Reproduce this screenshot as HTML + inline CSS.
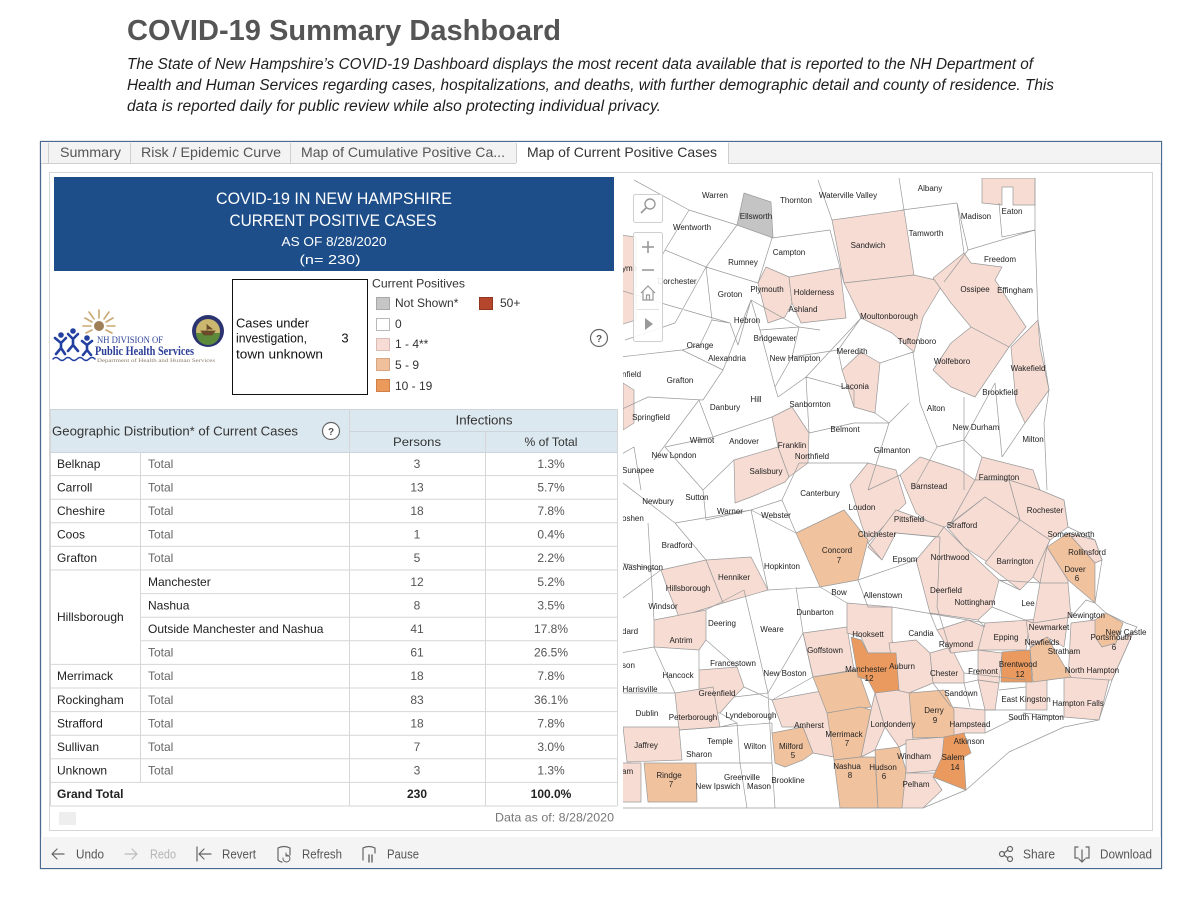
<!DOCTYPE html>
<html><head><meta charset="utf-8">
<style>
html,body{margin:0;padding:0;background:#fff;}
svg{display:block;font-family:"Liberation Sans",Arial,sans-serif;}
</style></head>
<body>
<svg width="1199" height="899" viewBox="0 0 1199 899" xmlns="http://www.w3.org/2000/svg">
<rect x="0" y="0" width="1199" height="899" fill="#fff"/>

<!-- Page header -->
<text x="127" y="40" font-size="29" font-weight="bold" fill="#555" textLength="434" lengthAdjust="spacingAndGlyphs">COVID-19 Summary Dashboard</text>
<g font-size="15.5" font-style="italic" fill="#1e1e1e">
<text x="127" y="69" textLength="906" lengthAdjust="spacingAndGlyphs">The State of New Hampshire’s COVID-19 Dashboard displays the most recent data available that is reported to the NH Department of</text>
<text x="127" y="90" textLength="927" lengthAdjust="spacingAndGlyphs">Health and Human Services regarding cases, hospitalizations, and deaths, with further demographic detail and county of residence. This</text>
<text x="127" y="111" textLength="534" lengthAdjust="spacingAndGlyphs">data is reported daily for public review while also protecting individual privacy.</text>
</g>

<!-- Dashboard frame -->
<rect x="40.5" y="141.5" width="1121" height="727" fill="#fff" stroke="#4a6a8f" stroke-width="1.3"/>
<!-- tabs -->
<rect x="41" y="142" width="1120" height="21" fill="#f3f3f3"/>
<rect x="516" y="142" width="212" height="22" fill="#fff"/>
<g stroke="#cfcfcf" stroke-width="1">
<line x1="41" y1="163.5" x2="516" y2="163.5"/>
<line x1="728" y1="163.5" x2="1161" y2="163.5"/>
<line x1="48.5" y1="143" x2="48.5" y2="163"/>
<line x1="130.5" y1="143" x2="130.5" y2="163"/>
<line x1="290.5" y1="143" x2="290.5" y2="163"/>
<line x1="516.5" y1="143" x2="516.5" y2="163"/>
<line x1="728.5" y1="143" x2="728.5" y2="163"/>
</g>
<g font-size="14" fill="#555">
<text x="60" y="157" textLength="61" lengthAdjust="spacingAndGlyphs">Summary</text>
<text x="141" y="157" textLength="140" lengthAdjust="spacingAndGlyphs">Risk / Epidemic Curve</text>
<text x="301" y="157" textLength="204" lengthAdjust="spacingAndGlyphs">Map of Cumulative Positive Ca...</text>
<text x="527" y="157" fill="#333" textLength="190" lengthAdjust="spacingAndGlyphs">Map of Current Positive Cases</text>
</g>

<!-- toolbar -->
<rect x="41" y="837" width="1120" height="31" fill="#f4f4f4"/>
<!-- inner panel -->
<rect x="49.5" y="172.5" width="1103" height="658" fill="#fff" stroke="#d6d6d6"/>

<!-- Blue header -->
<rect x="54" y="177" width="560" height="94" fill="#1d4e89"/>
<g fill="#fff" text-anchor="middle">
<text x="334" y="204" font-size="17" textLength="236" lengthAdjust="spacingAndGlyphs">COVID-19 IN NEW HAMPSHIRE</text>
<text x="333" y="226" font-size="17" textLength="207" lengthAdjust="spacingAndGlyphs">CURRENT POSITIVE CASES</text>
<text x="334" y="246" font-size="13" textLength="105" lengthAdjust="spacingAndGlyphs">AS OF 8/28/2020</text>
<text x="330" y="264" font-size="13" textLength="61" lengthAdjust="spacingAndGlyphs">(n= 230)</text>
</g>

<!-- Logo -->
<g>
<g stroke="#c9a874" stroke-width="1.6" stroke-linecap="round">
<line x1="91" y1="326" x2="83" y2="326"/>
<line x1="92" y1="322" x2="85" y2="318"/>
<line x1="94" y1="319" x2="89" y2="312"/>
<line x1="99" y1="318" x2="99" y2="310"/>
<line x1="104" y1="319" x2="109" y2="312"/>
<line x1="106" y1="322" x2="113" y2="318"/>
<line x1="107" y1="326" x2="115" y2="326"/>
<line x1="106" y1="330" x2="112" y2="333"/>
<line x1="92" y1="330" x2="86" y2="333"/>
</g>
<circle cx="99" cy="326" r="5" fill="#9e7f58"/>
<g stroke="#2340a0" stroke-width="2.6" fill="none" stroke-linecap="round" stroke-linejoin="round">
<path d="M55 338 L61 343 L66 338 M61 343 L61 348 M56 354 L61 348 L65 354"/>
<path d="M68 334 L73 339 L78 334 M73 339 L73 345 M68 351 L73 345 L78 351"/>
<path d="M82 341 L87 345 L92 341 M87 345 L87 350 M83 355 L87 350 L91 355"/>
<path d="M53 359 q3 -3 6 0 t6 0 t6 0 t6 0 t6 0 t6 0 t6 0" stroke-width="1.5"/>
</g>
<circle cx="61" cy="335" r="2.8" fill="#2340a0"/>
<circle cx="73" cy="331" r="2.8" fill="#2340a0"/>
<circle cx="87" cy="338" r="2.8" fill="#2340a0"/>
<text x="97" y="343" font-family="Liberation Serif,serif" font-size="9" fill="#2a3f96" textLength="66" lengthAdjust="spacingAndGlyphs">NH DIVISION OF</text>
<text x="95" y="355" font-family="Liberation Serif,serif" font-size="13" font-weight="bold" fill="#2b3d97" textLength="99" lengthAdjust="spacingAndGlyphs">Public Health Services</text>
<text x="97" y="362" font-family="Liberation Serif,serif" font-size="5.5" fill="#8a7a6a" textLength="118" lengthAdjust="spacingAndGlyphs">Department of Health and Human Services</text>
<circle cx="208" cy="331" r="16" fill="#2b3470"/>
<circle cx="208" cy="331" r="12" fill="#cbb86e"/>
<path d="M196 333 A12 12 0 0 0 220 333 Z" fill="#5d8a3a"/>
<path d="M201 331 L215 331 L212 335 L204 335 Z M207 324 L207 331 M207 325 L212 329 L207 329" fill="#6b4a2a" stroke="#6b4a2a" stroke-width="0.8"/>
</g>

<!-- Cases box -->
<rect x="232.5" y="279.5" width="135" height="115" fill="#fff" stroke="#111" stroke-width="1"/>
<g font-size="13" fill="#111">
<text x="236" y="327.5" textLength="73" lengthAdjust="spacingAndGlyphs">Cases under</text>
<text x="236" y="342.5" textLength="71" lengthAdjust="spacingAndGlyphs">investigation,</text>
<text x="236" y="358.5" textLength="87" lengthAdjust="spacingAndGlyphs">town unknown</text>
<text x="345" y="342.5" text-anchor="middle">3</text>
</g>

<!-- Legend -->
<g font-size="12" fill="#333">
<text x="372" y="287.5" textLength="93" lengthAdjust="spacingAndGlyphs">Current Positives</text>
<rect x="376.5" y="297.5" width="13" height="12" fill="#c6c6c6" stroke="#a8a8a8"/>
<rect x="376.5" y="318.5" width="13" height="12" fill="#fff" stroke="#b8b8b8"/>
<rect x="376.5" y="338.5" width="13" height="12" fill="#f6dcd4" stroke="#d9bcb3"/>
<rect x="376.5" y="358.5" width="13" height="12" fill="#f0c09d" stroke="#d6a582"/>
<rect x="376.5" y="379.5" width="13" height="12" fill="#eb9a5c" stroke="#cf8048"/>
<rect x="479.5" y="297.5" width="13" height="12" fill="#b5462b" stroke="#8f3520"/>
<text x="395" y="307">Not Shown*</text>
<text x="395" y="328">0</text>
<text x="395" y="348">1 - 4**</text>
<text x="395" y="369">5 - 9</text>
<text x="395" y="390">10 - 19</text>
<text x="500" y="307">50+</text>
</g>
<circle cx="599" cy="338" r="8.5" fill="#fff" stroke="#666" stroke-width="1.2"/>
<text x="599" y="342" font-size="10" font-weight="bold" fill="#555" text-anchor="middle">?</text>

<!-- Table -->
<rect x="50" y="409" width="567" height="43" fill="#dce8ef"/>
<g stroke="#cdd5da" stroke-width="1">
<line x1="50" y1="409.5" x2="617" y2="409.5"/>
<line x1="349" y1="431.5" x2="617" y2="431.5"/>
<line x1="50" y1="452.5" x2="617" y2="452.5"/>
</g>
<g stroke="#d6d6d6" stroke-width="1">
<line x1="50" y1="475.6" x2="617" y2="475.6"/>
<line x1="50" y1="499.2" x2="617" y2="499.2"/>
<line x1="50" y1="522.8" x2="617" y2="522.8"/>
<line x1="50" y1="546.4" x2="617" y2="546.4"/>
<line x1="50" y1="570" x2="617" y2="570"/>
<line x1="140" y1="593.6" x2="617" y2="593.6"/>
<line x1="140" y1="617.2" x2="617" y2="617.2"/>
<line x1="140" y1="640.8" x2="617" y2="640.8"/>
<line x1="50" y1="664.4" x2="617" y2="664.4"/>
<line x1="50" y1="688" x2="617" y2="688"/>
<line x1="50" y1="711.6" x2="617" y2="711.6"/>
<line x1="50" y1="735.2" x2="617" y2="735.2"/>
<line x1="50" y1="758.8" x2="617" y2="758.8"/>
<line x1="50" y1="782.4" x2="617" y2="782.4"/>
<line x1="50" y1="806" x2="617" y2="806"/>
<line x1="50.5" y1="409" x2="50.5" y2="806"/>
<line x1="140.5" y1="452" x2="140.5" y2="782.4"/>
<line x1="349.5" y1="409" x2="349.5" y2="806"/>
<line x1="485.5" y1="431" x2="485.5" y2="806"/>
<line x1="617.5" y1="409" x2="617.5" y2="806"/>
</g>
<g font-size="13" fill="#333">
<text x="52" y="435.5" textLength="246" lengthAdjust="spacingAndGlyphs">Geographic Distribution* of Current Cases</text>
<text x="484" y="424.5" text-anchor="middle" textLength="57" lengthAdjust="spacingAndGlyphs">Infections</text>
<text x="417" y="446" font-size="12" text-anchor="middle" textLength="48" lengthAdjust="spacingAndGlyphs">Persons</text>
<text x="551" y="446" font-size="12" text-anchor="middle" textLength="53" lengthAdjust="spacingAndGlyphs">% of Total</text>
</g>
<circle cx="331" cy="431" r="8.5" fill="#fff" stroke="#666" stroke-width="1.2"/>
<text x="331" y="435" font-size="10" font-weight="bold" fill="#555" text-anchor="middle">?</text>

<g font-size="12" fill="#222">
<text x="57" y="467.8">Belknap</text>
<text x="57" y="491.4">Carroll</text>
<text x="57" y="515">Cheshire</text>
<text x="57" y="538.6">Coos</text>
<text x="57" y="562.2">Grafton</text>
<text x="57" y="621.2">Hillsborough</text>
<text x="57" y="680.2">Merrimack</text>
<text x="57" y="703.8">Rockingham</text>
<text x="57" y="727.4">Strafford</text>
<text x="57" y="751">Sullivan</text>
<text x="57" y="774.6">Unknown</text>
<text x="57" y="798.2" font-weight="bold">Grand Total</text>
<text x="148" y="585.8">Manchester</text>
<text x="148" y="609.4">Nashua</text>
<text x="148" y="633">Outside Manchester and Nashua</text>
</g>
<g font-size="12" fill="#666">
<text x="148" y="467.8">Total</text>
<text x="148" y="491.4">Total</text>
<text x="148" y="515">Total</text>
<text x="148" y="538.6">Total</text>
<text x="148" y="562.2">Total</text>
<text x="148" y="656.6">Total</text>
<text x="148" y="680.2">Total</text>
<text x="148" y="703.8">Total</text>
<text x="148" y="727.4">Total</text>
<text x="148" y="751">Total</text>
<text x="148" y="774.6">Total</text>
</g>
<g font-size="12" fill="#555" text-anchor="middle">
<text x="417" y="467.8">3</text><text x="551" y="467.8">1.3%</text>
<text x="417" y="491.4">13</text><text x="551" y="491.4">5.7%</text>
<text x="417" y="515">18</text><text x="551" y="515">7.8%</text>
<text x="417" y="538.6">1</text><text x="551" y="538.6">0.4%</text>
<text x="417" y="562.2">5</text><text x="551" y="562.2">2.2%</text>
<text x="417" y="585.8">12</text><text x="551" y="585.8">5.2%</text>
<text x="417" y="609.4">8</text><text x="551" y="609.4">3.5%</text>
<text x="417" y="633">41</text><text x="551" y="633">17.8%</text>
<text x="417" y="656.6">61</text><text x="551" y="656.6">26.5%</text>
<text x="417" y="680.2">18</text><text x="551" y="680.2">7.8%</text>
<text x="417" y="703.8">83</text><text x="551" y="703.8">36.1%</text>
<text x="417" y="727.4">18</text><text x="551" y="727.4">7.8%</text>
<text x="417" y="751">7</text><text x="551" y="751">3.0%</text>
<text x="417" y="774.6">3</text><text x="551" y="774.6">1.3%</text>
<text x="417" y="798.2" font-weight="bold" fill="#222">230</text><text x="551" y="798.2" font-weight="bold" fill="#222">100.0%</text>
</g>
<rect x="59" y="812" width="17" height="13" fill="#eeeeee"/>
<text x="495" y="821.5" font-size="12" fill="#777" textLength="119" lengthAdjust="spacingAndGlyphs">Data as of: 8/28/2020</text>

<!-- MAP -->
<defs><clipPath id="mc"><rect x="623" y="178" width="528" height="650"/></clipPath></defs>
<g clip-path="url(#mc)">
<g stroke="#9a9a9a" stroke-width="0.7" stroke-linejoin="round">
<!-- pinks -->
<g fill="#f6dcd3">
<polygon points="982,178 1035,178 1035,205 1013,205 1013,187 1002,187 1002,205 982,203"/>
<polygon points="832,220 904,210 914,275 844,283"/>
<polygon points="844,283 914,275 944,282 923,317 914,352 892,333 861,318"/>
<polygon points="933,278 964,253 971,263 1002,267 995,280 1026,327 1009,347 971,327 951,303"/>
<polygon points="933,370 951,343 971,327 1009,347 975,397 951,387"/>
<polygon points="1011,347 1038,320 1040,347 1049,390 1025,423 1016,403"/>
<polygon points="758,283 766,267 789,277 792,303 785,317 768,323"/>
<polygon points="789,277 840,268 846,318 827,320 801,323 792,303"/>
<polygon points="842,370 861,352 880,363 875,413 854,407"/>
<polygon points="772,417 792,407 809,433 808,463 789,477 778,447"/>
<polygon points="734,460 778,447 789,477 785,482 751,497 735,503"/>
<polygon points="620,235 636,237 636,320 620,325"/>
<polygon points="623,383 634,390 634,423 623,430"/>
<polygon points="850,485 868,463 896,470 906,503 896,513 868,543 861,523"/>
<polygon points="900,475 920,457 960,470 975,480 951,523 940,530 916,513"/>
<polygon points="982,457 1033,470 1040,490 1009,480 975,480"/>
<polygon points="975,480 1009,480 1020,520 985,497 951,523"/>
<polygon points="1009,480 1040,490 1064,500 1068,527 1050,540 1020,520"/>
<polygon points="947,527 985,497 1020,520 989,563 964,547"/>
<polygon points="985,563 1020,520 1050,540 1033,577 1020,590"/>
<polygon points="916,560 944,527 964,547 999,580 992,607 978,620 930,613"/>
<polygon points="1068,533 1095,540 1102,560 1095,563"/>
<polygon points="1033,577 1050,540 1047,547 1068,580 1068,587 1040,583"/>
<polygon points="896,510 944,527 937,537 896,533 882,560 868,547"/>
<polygon points="706,560 751,557 768,590 723,603"/>
<polygon points="661,570 706,560 723,603 679,617 668,590"/>
<polygon points="654,620 706,610 706,640 699,650 654,647"/>
<polygon points="699,670 737,667 744,687 734,697 720,713 699,713"/>
<polygon points="675,693 713,687 720,727 679,730"/>
<polygon points="623,727 679,727 682,760 627,762"/>
<polygon points="620,763 641,763 641,802 620,802"/>
<polygon points="772,700 827,690 834,757 813,753 803,727 782,727"/>
<polygon points="803,633 847,627 854,670 813,677"/>
<polygon points="847,603 892,607 892,640 896,653 868,653 861,637 847,633"/>
<polygon points="871,710 875,693 885,727 875,750 861,757"/>
<polygon points="875,693 909,687 913,740 899,747 885,727"/>
<polygon points="906,740 944,737 942,770 906,773"/>
<polygon points="896,773 940,773 933,777 942,790 923,808 896,808"/>
<polygon points="889,643 916,640 930,653 933,683 909,693 896,690"/>
<polygon points="930,653 951,647 964,673 964,683 933,683"/>
<polygon points="937,630 968,620 985,627 978,650 951,653"/>
<polygon points="951,707 985,710 985,733 964,733 954,737"/>
<polygon points="978,650 1002,653 999,683 978,680"/>
<polygon points="978,680 999,683 995,710 985,710"/>
<polygon points="985,623 1030,620 1026,650 978,650"/>
<polygon points="1026,620 1068,617 1064,647 1047,637 1030,647"/>
<polygon points="1040,583 1068,583 1071,617 1033,623"/>
<polygon points="1071,623 1095,620 1102,647 1133,633 1112,680 1068,680"/>
<polygon points="1064,677 1109,680 1099,720 1064,717"/>
<polygon points="1026,680 1047,680 1047,710 1026,710"/>
</g>
<!-- grey -->
<polygon points="744,193 771,202 773,238 737,225" fill="#c4c4c4"/>
<!-- 5-9 -->
<g fill="#f0c29e">
<polygon points="1047,547 1068,533 1095,563 1095,603 1068,580"/>
<polygon points="796,533 844,510 868,540 858,580 820,587"/>
<polygon points="644,763 696,763 697,802 648,802"/>
<polygon points="772,733 803,727 813,753 803,760 785,767 775,763"/>
<polygon points="813,677 858,670 871,707 827,713"/>
<polygon points="827,713 861,707 871,710 861,757 834,760"/>
<polygon points="834,760 861,757 875,757 878,808 840,808"/>
<polygon points="875,750 899,747 906,770 902,808 878,808"/>
<polygon points="909,693 944,690 954,710 954,737 913,738"/>
<polygon points="1030,648 1047,637 1071,677 1033,682"/>
<polygon points="1095,620 1106,613 1123,623 1116,643 1102,647 1095,637"/>
</g>
<!-- 10-19 -->
<g fill="#ea9a5e">
<polygon points="851,637 861,640 868,653 896,653 899,690 875,693 868,680 858,677"/>
<polygon points="944,737 964,733 971,753 964,757 966,790 933,777 942,757"/>
<polygon points="1002,652 1030,650 1032,682 1001,682"/>
</g>
</g>
<!-- boundary lines -->
<path fill="none" stroke="#9a9a9a" stroke-width="0.7" stroke-linejoin="round" d="
M634 180 L689 210 L737 225
M689 210 L665 250 L658 263
M772 238 L830 230
M706 267 L758 283
M661 303 L730 323
M818 180 L832 220
M899 178 L904 210
M902 210 L957 203
M957 203 L968 250
M999 203 L1002 237
M968 250 L1035 230
M861 318 L806 377 L778 397
M806 377 L854 390
M875 413 L889 423 L909 403
M889 423 L868 490
M913 352 L920 403 L937 447 L913 490
M964 397 L964 490
M995 383 L1002 457
M620 357 L682 350 L723 370
M648 397 L703 400 L723 370
M699 400 L713 437 L665 447
M713 437 L772 417
M634 447 L641 490
M665 447 L703 490
M809 433 L854 423 L889 423
M799 463 L868 463
M751 300 L799 327 L792 357 L775 387 L778 397
M737 225 L706 267 L675 323
M675 323 L625 340
M723 370 L751 300
M1035 178 L1035 230 L1038 320 L1049 390 L1044 423 L1047 490
M623 483 L675 523 L706 560
M675 523 L751 510 L796 533
M648 523 L654 620
M620 563 L661 570
M768 590 L820 587
M744 590 L768 693
M796 587 L803 633
M706 610 L744 590
M620 653 L654 647
M620 693 L675 693
M679 730 L772 723
M734 697 L768 693
M720 727 L737 723 L740 763
M696 763 L772 763
M772 763 L775 808
M740 763 L747 808
M858 580 L868 607 L892 607
M896 533 L940 537 L937 607
M892 607 L985 623
M964 673 L1026 680
M999 580 L1040 583
M1023 713 L1064 717
M985 733 L1026 713
M751 510 L768 590
M803 633 L768 693
M768 693 L772 763
M620 808 L896 808
M923 808 L966 790 L1009 752 L1064 727 L1099 720
M1064 500 L1068 527 L1095 540 L1102 560 L1095 603 L1106 613 L1126 623 L1137 627 L1133 633 L1112 680 L1099 720
M730 323 L738 345 L751 300
M654 460 L699 400
M620 600 L661 570
M937 607 L951 653
M964 683 L970 707
M999 690 L1026 687
M620 455 L634 447
M703 490 L734 460
M799 327 L820 330
M868 490 L900 475
M813 677 L803 633
M706 267 L712 320 L730 323
M712 320 L700 345
M760 330 L751 300
M760 330 L799 327
M760 330 L775 387
M682 350 L700 345
M792 357 L838 350
M838 350 L861 318
M838 350 L842 370
M880 363 L913 352
M806 377 L809 433
M854 390 L854 407
M937 447 L964 440 L995 383
M964 440 L982 457
M1002 457 L1025 423
M620 410 L648 397
M703 490 L706 520 L751 510
M751 510 L782 500 L799 463
M782 500 L796 533
M868 543 L882 560
M858 580 L916 560
M930 613 L937 630
M978 620 L985 627
M992 607 L1033 623
M999 580 L1020 590
M820 587 L847 603
M699 650 L699 670
M706 640 L737 667
M720 713 L737 723
M813 677 L772 700
M772 723 L772 733
M951 707 L933 683
M964 683 L978 680
M985 710 L1026 710
M1071 617 L1086 600 L1095 603
M1040 583 L1047 547
M654 647 L675 693
M744 687 L772 700
M830 230 L844 283
M772 238 L758 283
M665 250 L706 267
M620 290 L661 303
M1002 237 L1035 230
M964 253 L957 203
M944 282 L968 250
"/>
<!-- labels -->
<g font-size="8" fill="#222" text-anchor="middle">
<text x="715" y="198">Warren</text>
<text x="796" y="203">Thornton</text>
<text x="848" y="198">Waterville Valley</text>
<text x="930" y="191">Albany</text>
<text x="756" y="219">Ellsworth</text>
<text x="1012" y="214">Eaton</text>
<text x="976" y="219">Madison</text>
<text x="692" y="230">Wentworth</text>
<text x="926" y="236">Tamworth</text>
<text x="789" y="255">Campton</text>
<text x="868" y="248">Sandwich</text>
<text x="743" y="265">Rumney</text>
<text x="1000" y="262">Freedom</text>
<text x="677" y="284">Dorchester</text>
<text x="975" y="292">Ossipee</text>
<text x="1015" y="293">Effingham</text>
<text x="767" y="292">Plymouth</text>
<text x="814" y="295">Holderness</text>
<text x="730" y="297">Groton</text>
<text x="803" y="312">Ashland</text>
<text x="889" y="319">Moultonborough</text>
<text x="747" y="323">Hebron</text>
<text x="917" y="344">Tuftonboro</text>
<text x="775" y="341">Bridgewater</text>
<text x="700" y="348">Orange</text>
<text x="852" y="354">Meredith</text>
<text x="727" y="361">Alexandria</text>
<text x="795" y="361">New Hampton</text>
<text x="952" y="364">Wolfeboro</text>
<text x="1028" y="371">Wakefield</text>
<text x="622" y="377" text-anchor="start">nfield</text>
<text x="680" y="383">Grafton</text>
<text x="855" y="389">Laconia</text>
<text x="756" y="402">Hill</text>
<text x="1000" y="395">Brookfield</text>
<text x="725" y="410">Danbury</text>
<text x="810" y="407">Sanbornton</text>
<text x="936" y="411">Alton</text>
<text x="651" y="420">Springfield</text>
<text x="976" y="430">New Durham</text>
<text x="845" y="432">Belmont</text>
<text x="1033" y="442">Milton</text>
<text x="702" y="443">Wilmot</text>
<text x="744" y="444">Andover</text>
<text x="792" y="448">Franklin</text>
<text x="892" y="453">Gilmanton</text>
<text x="812" y="459">Northfield</text>
<text x="674" y="458">New London</text>
<text x="638" y="473">Sunapee</text>
<text x="766" y="474">Salisbury</text>
<text x="999" y="480">Farmington</text>
<text x="929" y="489">Barnstead</text>
<text x="820" y="496">Canterbury</text>
<text x="658" y="504">Newbury</text>
<text x="697" y="500">Sutton</text>
<text x="862" y="510">Loudon</text>
<text x="730" y="514">Warner</text>
<text x="776" y="518">Webster</text>
<text x="1045" y="513">Rochester</text>
<text x="909" y="522">Pittsfield</text>
<text x="622" y="521" text-anchor="start">oshen</text>
<text x="962" y="528">Strafford</text>
<text x="877" y="537">Chichester</text>
<text x="1071" y="537">Somersworth</text>
<text x="1087" y="555">Rollinsford</text>
<text x="677" y="548">Bradford</text>
<text x="837" y="553">Concord</text>
<text x="839" y="563">7</text>
<text x="905" y="562">Epsom</text>
<text x="950" y="560">Northwood</text>
<text x="1015" y="564">Barrington</text>
<text x="642" y="570">Washington</text>
<text x="782" y="569">Hopkinton</text>
<text x="1075" y="572">Dover</text>
<text x="1077" y="581">6</text>
<text x="734" y="580">Henniker</text>
<text x="688" y="591">Hillsborough</text>
<text x="946" y="593">Deerfield</text>
<text x="839" y="595">Bow</text>
<text x="883" y="598">Allenstown</text>
<text x="663" y="609">Windsor</text>
<text x="815" y="615">Dunbarton</text>
<text x="975" y="605">Nottingham</text>
<text x="1028" y="606">Lee</text>
<text x="1086" y="618">Newington</text>
<text x="622" y="634" text-anchor="start">dard</text>
<text x="722" y="626">Deering</text>
<text x="772" y="632">Weare</text>
<text x="1049" y="630">Newmarket</text>
<text x="1126" y="635">New Castle</text>
<text x="1111" y="640">Portsmouth</text>
<text x="1114" y="650">6</text>
<text x="868" y="637">Hooksett</text>
<text x="921" y="636">Candia</text>
<text x="1006" y="640">Epping</text>
<text x="681" y="643">Antrim</text>
<text x="1042" y="645">Newfields</text>
<text x="956" y="647">Raymond</text>
<text x="825" y="653">Goffstown</text>
<text x="1064" y="654">Stratham</text>
<text x="733" y="666">Francestown</text>
<text x="902" y="669">Auburn</text>
<text x="866" y="672">Manchester</text>
<text x="869" y="681">12</text>
<text x="1018" y="667">Brentwood</text>
<text x="1020" y="677">12</text>
<text x="983" y="674">Fremont</text>
<text x="1092" y="673">North Hampton</text>
<text x="622" y="668" text-anchor="start">son</text>
<text x="678" y="678">Hancock</text>
<text x="785" y="676">New Boston</text>
<text x="944" y="676">Chester</text>
<text x="640" y="692">Harrisville</text>
<text x="717" y="696">Greenfield</text>
<text x="961" y="696">Sandown</text>
<text x="1026" y="702">East Kingston</text>
<text x="1078" y="706">Hampton Falls</text>
<text x="647" y="716">Dublin</text>
<text x="693" y="720">Peterborough</text>
<text x="751" y="718">Lyndeborough</text>
<text x="934" y="713">Derry</text>
<text x="935" y="723">9</text>
<text x="970" y="727">Hampstead</text>
<text x="1036" y="720">South Hampton</text>
<text x="809" y="728">Amherst</text>
<text x="844" y="737">Merrimack</text>
<text x="847" y="746">7</text>
<text x="893" y="727">Londonderry</text>
<text x="720" y="744">Temple</text>
<text x="755" y="749">Wilton</text>
<text x="791" y="749">Milford</text>
<text x="793" y="758">5</text>
<text x="646" y="748">Jaffrey</text>
<text x="969" y="744">Atkinson</text>
<text x="699" y="757">Sharon</text>
<text x="914" y="759">Windham</text>
<text x="953" y="760">Salem</text>
<text x="955" y="770">14</text>
<text x="847" y="769">Nashua</text>
<text x="850" y="778">8</text>
<text x="883" y="770">Hudson</text>
<text x="884" y="779">6</text>
<text x="669" y="778">Rindge</text>
<text x="671" y="787">7</text>
<text x="742" y="780">Greenville</text>
<text x="718" y="789">New Ipswich</text>
<text x="759" y="789">Mason</text>
<text x="788" y="783">Brookline</text>
<text x="916" y="787">Pelham</text>
<text x="622" y="774" text-anchor="start">am</text>
<text x="622" y="271" text-anchor="start">yme</text>
</g>
</g>

<!-- Map controls -->
<rect x="633.5" y="194.5" width="29" height="28" rx="2" fill="#fff" fill-opacity="0.88" stroke="#cfcfcf"/>
<circle cx="650" cy="204" r="5" fill="none" stroke="#999" stroke-width="1.4"/>
<line x1="646.5" y1="207.5" x2="641" y2="213" stroke="#999" stroke-width="1.6"/>
<rect x="633.5" y="232.5" width="29" height="109" rx="2" fill="#fff" fill-opacity="0.88" stroke="#cfcfcf"/>
<g stroke="#999" stroke-width="1.6" fill="none">
<line x1="642" y1="247" x2="654" y2="247"/>
<line x1="648" y1="241" x2="648" y2="253"/>
<line x1="642" y1="270" x2="654" y2="270"/>
<path d="M641 293 L648 286 L655 293 M643 291 L643 300 L653 300 L653 291 M646.5 300 L646.5 295 L649.5 295 L649.5 300" stroke-width="1.2"/>
</g>
<line x1="637" y1="309.5" x2="659" y2="309.5" stroke="#e0e0e0"/>
<polygon points="645,318 645,330 653,324" fill="#999"/>

<!-- Toolbar -->
<g stroke="#666" stroke-width="1.2" fill="none" stroke-linecap="round">
<path d="M52 854 H64 M52 854 L57 849 M52 854 L57 859"/>
<path d="M125 854 H137 M137 854 L132 849 M137 854 L132 859" stroke="#bbb"/>
<path d="M197 847 V861 M199 854 H211 M199 854 L204 849 M199 854 L204 859"/>
<path d="M278 848 Q284 845 290 848 V855 M278 848 V860 Q280 862 282 862"/>
<path d="M283 858 A3.5 3.5 0 1 0 286 855 M286 853 L286 856 L289 856" stroke-width="1"/>
<path d="M363 848 Q369 845 375 848 V853 M363 848 V860"/>
<path d="M369 855 V862 M372 855 V862" stroke-width="1.4"/>
<circle cx="1002" cy="854" r="2.5"/>
<circle cx="1010" cy="849" r="2.5"/>
<circle cx="1010" cy="859" r="2.5"/>
<path d="M1004 853 L1008 850 M1004 855 L1008 858"/>
<path d="M1078 847 H1075 V858 H1078 M1086 847 H1089 V858 H1086 M1082 850 V862 M1079 859 L1082 862 L1085 859"/>
</g>
<g font-size="13" fill="#555">
<text x="76" y="858.5" textLength="28" lengthAdjust="spacingAndGlyphs">Undo</text>
<text x="150" y="858.5" fill="#b5b5b5" textLength="26" lengthAdjust="spacingAndGlyphs">Redo</text>
<text x="222" y="858.5" textLength="34" lengthAdjust="spacingAndGlyphs">Revert</text>
<text x="302" y="858.5" textLength="40" lengthAdjust="spacingAndGlyphs">Refresh</text>
<text x="387" y="858.5" textLength="32" lengthAdjust="spacingAndGlyphs">Pause</text>
<text x="1023" y="858.5" textLength="32" lengthAdjust="spacingAndGlyphs">Share</text>
<text x="1100" y="858.5" textLength="52" lengthAdjust="spacingAndGlyphs">Download</text>
</g>
</svg>
</body></html>
